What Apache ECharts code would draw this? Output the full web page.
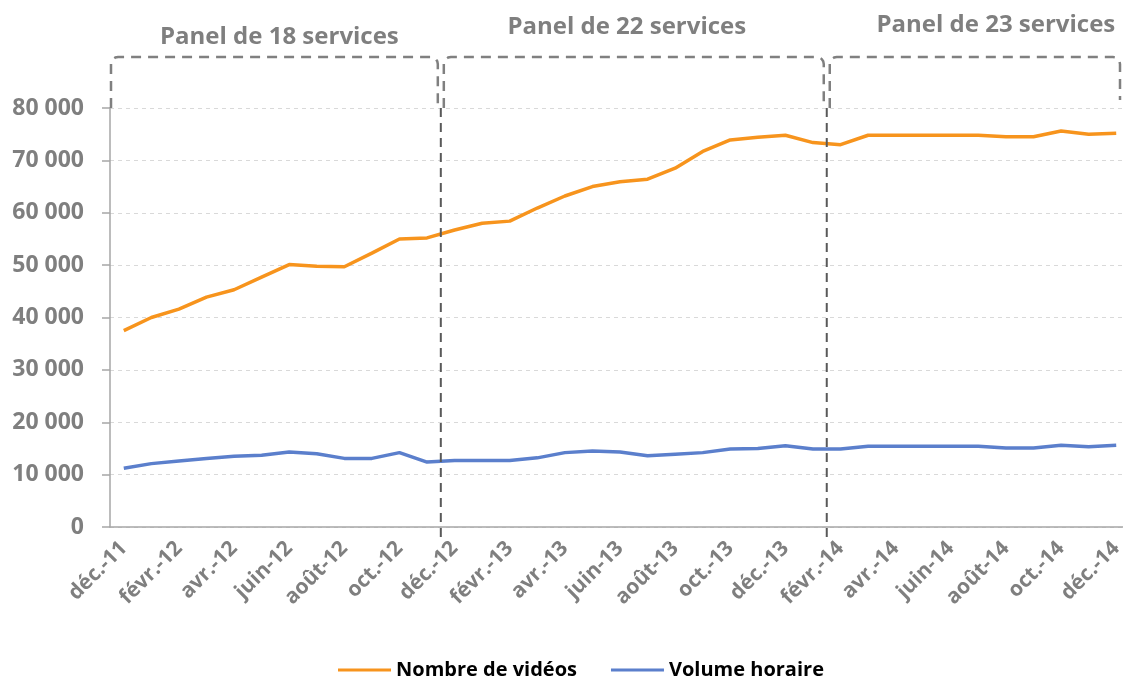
<!DOCTYPE html>
<html>
<head>
<meta charset="utf-8">
<script src="https://cdn.jsdelivr.net/npm/echarts@6/dist/echarts.min.js"></script>
<style>
  html, body { margin: 0; padding: 0; background: #fff; }
  #chart { width: 1123px; height: 677px; }
</style>
</head>
<body>
<div id="chart"></div>
<script>
// mois (déc. 2011 -> déc. 2014)
const months = [
    'déc.-11',
    'janv.-12', 'févr.-12', 'mars-12', 'avr.-12', 'mai-12', 'juin-12',
    'juil.-12', 'août-12', 'sept.-12', 'oct.-12', 'nov.-12', 'déc.-12',
    'janv.-13', 'févr.-13', 'mars-13', 'avr.-13', 'mai-13', 'juin-13',
    'juil.-13', 'août-13', 'sept.-13', 'oct.-13', 'nov.-13', 'déc.-13',
    'janv.-14', 'févr.-14', 'mars-14', 'avr.-14', 'mai-14', 'juin-14',
    'juil.-14', 'août-14', 'sept.-14', 'oct.-14', 'nov.-14', 'déc.-14'
];

const videos = [
    37500,
    40000, 41600, 43900, 45300, 47700, 50100,
    49800, 49700, 52300, 55000, 55200, 56700,
    58000, 58400, 60900, 63200, 65000, 65900,
    66400, 68500, 71700, 73900, 74400, 74800,
    73400, 73000, 74800, 74800, 74800, 74800,
    74800, 74500, 74500, 75600, 75000, 75200
];

const volume = [
    11200,
    12100, 12600, 13100, 13500, 13700, 14300,
    14000, 13100, 13100, 14200, 12400, 12700,
    12700, 12700, 13200, 14200, 14500, 14300,
    13600, 13900, 14200, 14900, 15000, 15500,
    14900, 14900, 15400, 15400, 15400, 15400,
    15400, 15100, 15100, 15600, 15300, 15600
];

// panels : titre + premier mois + mois de fin (exclu)
const panelTitles = ['Panel de 18 services', 'Panel de 22 services', 'Panel de 23 services'];
const panelStart = [0, 12, 26];
const panelEnd = [12, 26, 37];

const FONT = '"Open Sans", "Noto Sans", sans-serif';
const GREY = '#7f7f7f';

var myChart = echarts.init(document.getElementById('chart'));

let option = {
    animation: false,
    grid: { left: 110, right: -7, top: 108, bottom: 150, outerBoundsMode: 'none', containLabel: false },
    legend: {
        left: 333,
        top: 655,
        icon: 'rect',
        itemWidth: 53,
        itemHeight: 3,
        itemGap: 34,
        textStyle: { fontFamily: FONT, fontSize: 20, fontWeight: 'bold', color: '#000' }
    },
    xAxis: {
        type: 'category',
        data: months,
        boundaryGap: true,
        axisLine: { lineStyle: { color: '#a6a6a6', width: 1.5 } },
        axisTick: { interval: 1, length: 8, lineStyle: { color: '#a6a6a6', width: 1.5 } },
        axisLabel: {
            interval: 1,
            rotate: 45,
            margin: 18,
            fontFamily: FONT,
            fontSize: 21,
            fontWeight: 'bold',
            color: GREY
        }
    },
    yAxis: {
        type: 'value',
        min: 0,
        max: 80000,
        interval: 10000,
        axisLine: { show: true, lineStyle: { color: '#a6a6a6', width: 1.5 } },
        axisTick: { show: true, length: 8, lineStyle: { color: '#a6a6a6', width: 1.5 } },
        splitLine: { lineStyle: { color: '#d9d9d9', type: [4, 4] } },
        axisLabel: {
            margin: 26,
            fontFamily: FONT,
            fontSize: 23,
            fontWeight: 'bold',
            color: GREY,
            formatter: function (v) {
                return String(v).replace(/\B(?=(\d{3})+(?!\d))/g, ' ');
            }
        }
    },
    series: [
        {
            name: 'Nombre de vidéos',
            type: 'line',
            data: videos,
            showSymbol: false,
            color: '#F7941D',
            lineStyle: { width: 3.5 }
        },
        {
            name: 'Volume horaire',
            type: 'line',
            data: volume,
            showSymbol: false,
            color: '#5B7FCC',
            lineStyle: { width: 3.5 }
        }
    ]
};

myChart.setOption(option);

// cadres pointillés des panels, placés sur les limites de catégories
function boundaryX(i) {
    const c0 = myChart.convertToPixel({ xAxisIndex: 0 }, 0);
    const c1 = myChart.convertToPixel({ xAxisIndex: 0 }, 1);
    const band = c1 - c0;
    return c0 - band / 2 + i * band;
}

// petit arc pour les coins arrondis
function corner(cx, cy, r, a0, a1) {
    let pts = [];
    for (let s = 0; s <= 4; s++) {
        let a = a0 + (a1 - a0) * s / 4;
        pts.push([cx + r * Math.cos(a), cy + r * Math.sin(a)]);
    }
    return pts;
}

const yTop = myChart.convertToPixel({ yAxisIndex: 0 }, 80000);
const yZero = myChart.convertToPixel({ yAxisIndex: 0 }, 0);
const boxTop = yTop - 51;
const titleY = [37, 27, 25];
const titleShift = [5, -7, 21];
const r = 7;
let graphics = [];

panelTitles.forEach(function (title, k) {
    let x1 = boundaryX(panelStart[k]) + (k === 0 ? 1 : 3);
    let x2 = Math.min(boundaryX(panelEnd[k]) - 3, 1120);
    let yb2 = k === 2 ? yTop - 8 : yTop;
    let pts = [[x1, yTop]]
        .concat(corner(x1 + r, boxTop + r, r, Math.PI, Math.PI * 1.5))
        .concat(corner(x2 - r, boxTop + r, r, Math.PI * 1.5, Math.PI * 2))
        .concat([[x2, yb2]]);
    graphics.push({
        type: 'polyline',
        shape: { points: pts },
        style: { fill: null, stroke: '#808080', lineWidth: 2.5, lineDash: [10, 7] },
        z: 10
    });
    graphics.push({
        type: 'text',
        x: (x1 + x2) / 2 + titleShift[k],
        y: titleY[k],
        style: {
            text: title,
            align: 'center',
            verticalAlign: 'middle',
            fontFamily: FONT,
            fontSize: 24,
            fontWeight: 'bold',
            fill: GREY
        },
        z: 10
    });
});

// séparateurs verticaux entre panels
[12, 26].forEach(function (i) {
    let x = boundaryX(i);
    graphics.push({
        type: 'line',
        shape: { x1: x, y1: yTop, x2: x, y2: yZero + 10 },
        style: { stroke: '#595959', lineWidth: 2, lineDash: [9, 6] },
        z: 10
    });
});

myChart.setOption({ graphic: graphics });
</script>
</body>
</html>
